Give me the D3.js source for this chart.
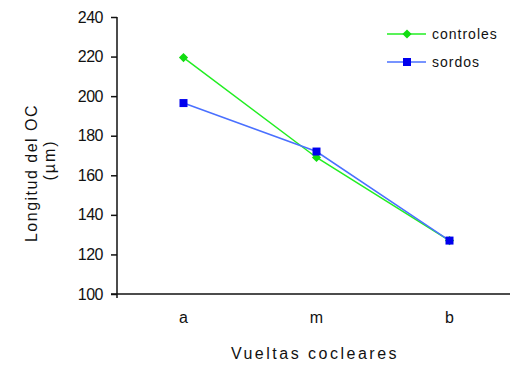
<!DOCTYPE html>
<html>
<head>
<meta charset="utf-8">
<script src="https://cdn.jsdelivr.net/npm/d3@7"></script>
<style>
  body { margin: 0; background: #fff; }
  text { font-family: "Liberation Sans", Arial, sans-serif; fill: #111; }
</style>
</head>
<body>
<svg id="chart" width="510" height="366"></svg>
<script>
// data
const categories = ["a", "m", "b"];
const controles = [219.5, 169, 127];
const sordos = [196.5, 172, 127];
const yTicks = [100, 120, 140, 160, 180, 200, 220, 240];
const seriesNames = ["controles", "sordos"];

const svg = d3.select("#chart");
const plotLeft = 117, plotRight = 516, plotTop = 17, plotBottom = 294;

const x = d3.scaleBand().domain(categories).range([plotLeft, plotRight]);
const y = d3.scaleLinear().domain([100, 240]).range([plotBottom, plotTop]);
const cx = c => x(c) + x.bandwidth() / 2;

// y axis
const yAxis = svg.append("g")
  .attr("transform", "translate(" + plotLeft + ",0)")
  .call(d3.axisLeft(y).tickValues(yTicks).tickSize(6).tickPadding(8).tickSizeOuter(0));
yAxis.select(".domain").attr("stroke", "#111").attr("stroke-width", 1.5)
  .attr("d", "M0," + plotTop + "V" + (plotBottom + 4));
yAxis.selectAll(".tick line").attr("stroke", "#111").attr("stroke-width", 1.5);
yAxis.selectAll("text").style("font-size", "16px").style("letter-spacing", "-0.5px");

// x axis
const xAxis = svg.append("g")
  .attr("transform", "translate(0," + plotBottom + ")")
  .call(d3.axisBottom(x).tickSize(0).tickPadding(18).tickSizeOuter(0));
xAxis.select(".domain").attr("stroke", "#111").attr("stroke-width", 1.5)
  .attr("d", "M" + (plotLeft - 6) + ",0H" + plotRight);
xAxis.selectAll("text").style("font-size", "16px");

// titles
svg.append("text")
  .attr("x", 315).attr("y", 359)
  .attr("text-anchor", "middle")
  .style("font-size", "16px").style("letter-spacing", "2.5px")
  .text("Vueltas cocleares");

svg.append("text")
  .attr("transform", "translate(37,173) rotate(-90)")
  .attr("text-anchor", "middle")
  .style("font-size", "16px").style("letter-spacing", "1.5px")
  .text("Longitud del OC");
svg.append("text")
  .attr("transform", "translate(55,160) rotate(-90)")
  .attr("text-anchor", "middle")
  .style("font-size", "16px").style("letter-spacing", "2px")
  .text("(µm)");

const line = d3.line().x((d, i) => cx(categories[i])).y(d => y(d));
const diamond = d3.symbol(d3.symbolSquare, 42);

// controles (green, diamond markers)
svg.append("path").datum(controles)
  .attr("d", line).attr("fill", "none")
  .attr("stroke", "#22ee22").attr("stroke-width", 1.5);
svg.selectAll(".mc").data(controles).enter().append("path")
  .attr("d", diamond)
  .attr("transform", (d, i) => "translate(" + cx(categories[i]) + "," + y(d) + ") rotate(45)")
  .attr("fill", "#11dd11");

// sordos (blue, square markers)
svg.append("path").datum(sordos)
  .attr("d", line).attr("fill", "none")
  .attr("stroke", "#4a70ff").attr("stroke-width", 1.5);
svg.selectAll(".ms").data(sordos).enter().append("rect")
  .attr("x", (d, i) => cx(categories[i]) - 4)
  .attr("y", d => y(d) - 4)
  .attr("width", 8).attr("height", 8)
  .attr("fill", "#0000ee");

// legend
const legend = svg.append("g");
const legendColors = ["#22ee22", "#4a70ff"];
seriesNames.forEach((name, i) => {
  const ly = 34 + i * 28;
  legend.append("line")
    .attr("x1", 387).attr("x2", 426).attr("y1", ly).attr("y2", ly)
    .attr("stroke", legendColors[i]).attr("stroke-width", 1.5);
  if (i === 0) {
    legend.append("path").attr("d", diamond)
      .attr("transform", "translate(407," + ly + ") rotate(45)").attr("fill", "#11dd11");
  } else {
    legend.append("rect").attr("x", 403).attr("y", ly - 4)
      .attr("width", 8).attr("height", 8).attr("fill", "#0000ee");
  }
  legend.append("text")
    .attr("x", 432).attr("y", ly + 5)
    .style("font-size", "14px").style("letter-spacing", "1px")
    .text(name);
});
</script>
</body>
</html>
